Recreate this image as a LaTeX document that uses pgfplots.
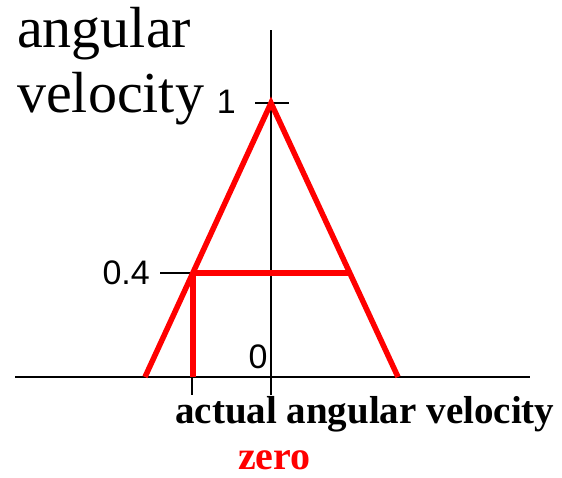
\documentclass[border=0pt]{standalone}
\usepackage{fontspec}
\setmainfont{Liberation Serif}
\newfontfamily\numfont{Liberation Sans}
\usepackage{pgfplots}
\pgfplotsset{compat=1.18}

\begin{document}
\begin{tikzpicture}
\begin{axis}[
    scale only axis,
    width=562pt, height=478pt,
    xmin=-271, xmax=291,
    ymin=-0.3686, ymax=1.376,
    axis lines=none,
    clip=false,
]
% fix the page to the full axis area
\path (axis cs:-271,-0.3686) rectangle (axis cs:291,1.376);

% axes and marks
\draw[black, line width=1.6pt] (axis cs:-256,0) -- (axis cs:259,0);
\draw[black, line width=1.6pt] (axis cs:0,-0.066) -- (axis cs:0,1.266);
\draw[black, line width=1.6pt] (axis cs:-16,1) -- (axis cs:18,1);
\draw[black, line width=1.6pt] (axis cs:-111,0.38) -- (axis cs:-78,0.38);
\draw[black, line width=1.6pt] (axis cs:-79,0) -- (axis cs:-79,-0.066);

% membership function "zero"
\addplot[red, line width=5.5pt, line join=miter] coordinates {
    (-126,0) (0,1) (127,0)
};
% cut at 0.4
\addplot[red, line width=5.5pt] coordinates {
    (-78,0.38) (79,0.38)
};
\addplot[red, line width=5.5pt] coordinates {
    (-78,0) (-78,0.38)
};

% labels
\node[anchor=east, inner sep=0pt, font=\numfont\fontsize{34}{34}\selectfont] at (axis cs:-35,1.005) {1};
\node[anchor=east, inner sep=0pt, font=\numfont\fontsize{34}{34}\selectfont] at (axis cs:-121,0.38) {0.4};
\node[anchor=center, inner sep=0pt, font=\numfont\fontsize{34}{34}\selectfont] at (axis cs:-13,0.073) {0};
\node[anchor=base west, inner sep=0pt, font=\fontsize{58}{58}\selectfont] at (axis cs:-254,1.204) {angular};
\node[anchor=base west, inner sep=0pt, font=\fontsize{58}{58}\selectfont] at (axis cs:-254,0.967) {velocity};
\node[anchor=base west, inner sep=0pt, font=\bfseries\fontsize{39}{39}\selectfont] at (axis cs:-96,-0.168) {actual angular velocity};
\node[anchor=base west, inner sep=0pt, text=red, font=\bfseries\fontsize{40}{40}\selectfont] at (axis cs:-33,-0.339) {zero};
\end{axis}
\end{tikzpicture}
\end{document}
